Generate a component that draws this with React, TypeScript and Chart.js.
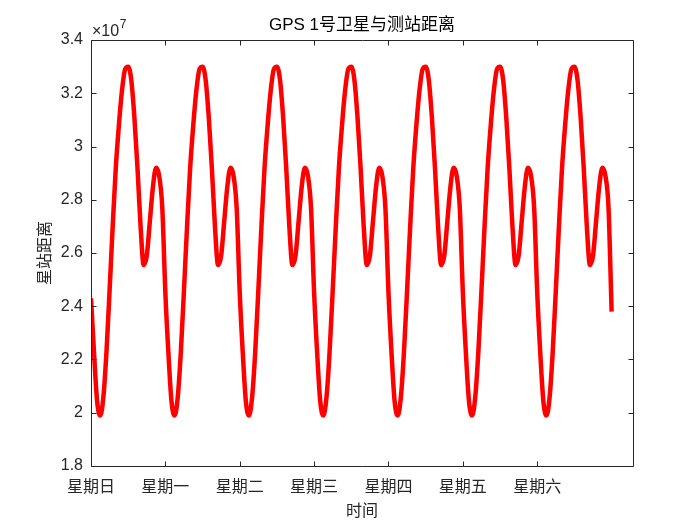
import React, { useEffect, useRef } from 'react';
import { Chart, registerables } from 'chart.js';

Chart.register(...registerables);

const TITLE = 'GPS 1号卫星与测站距离';
const X_TITLE = '时间';
const Y_TITLE = '星站距离';
const Y_EXPONENT = '7';

const WEEKDAYS = ['星期日', '星期一', '星期二', '星期三', '星期四', '星期五', '星期六'];
const WEEKDAY_HOURS = [0, 24, 48, 72, 96, 120, 144];
const Y_TICKS = [1.8, 2.0, 2.2, 2.4, 2.6, 2.8, 3.0, 3.2, 3.4];
const X_MIN_HOURS = 0;
const X_MAX_HOURS = 174.9;

// satellite–station distance, ×10^7 m, one sample per hour
const DISTANCE_1E7 = [
  // Sunday
  2.43, 2.22, 2.04, 1.99, 2.06, 2.23, 2.46, 2.70, 2.92, 3.08, 3.21, 3.29,
  3.30, 3.25, 3.11, 2.92, 2.70, 2.555, 2.59, 2.72, 2.85, 2.92, 2.89, 2.77,
  // Monday
  2.45, 2.22, 2.04, 1.99, 2.06, 2.23, 2.46, 2.70, 2.92, 3.08, 3.21, 3.29,
  3.30, 3.25, 3.11, 2.92, 2.70, 2.555, 2.59, 2.72, 2.85, 2.92, 2.89, 2.77,
  // Tuesday
  2.45, 2.22, 2.04, 1.99, 2.06, 2.23, 2.46, 2.70, 2.92, 3.08, 3.21, 3.29,
  3.30, 3.25, 3.11, 2.92, 2.70, 2.555, 2.59, 2.72, 2.85, 2.92, 2.89, 2.77,
  // Wednesday
  2.45, 2.22, 2.04, 1.99, 2.06, 2.23, 2.46, 2.70, 2.92, 3.08, 3.21, 3.29,
  3.30, 3.25, 3.11, 2.92, 2.70, 2.555, 2.59, 2.72, 2.85, 2.92, 2.89, 2.77,
  // Thursday
  2.45, 2.22, 2.04, 1.99, 2.06, 2.23, 2.46, 2.70, 2.92, 3.08, 3.21, 3.29,
  3.30, 3.25, 3.11, 2.92, 2.70, 2.555, 2.59, 2.72, 2.85, 2.92, 2.89, 2.77,
  // Friday
  2.45, 2.22, 2.04, 1.99, 2.06, 2.23, 2.46, 2.70, 2.92, 3.08, 3.21, 3.29,
  3.30, 3.25, 3.11, 2.92, 2.70, 2.555, 2.59, 2.72, 2.85, 2.92, 2.89, 2.77,
  // Saturday
  2.45, 2.22, 2.04, 1.99, 2.06, 2.23, 2.46, 2.70, 2.92, 3.08, 3.21, 3.29,
  3.30, 3.25, 3.11, 2.92, 2.70, 2.555, 2.59, 2.72, 2.85, 2.92, 2.89, 2.77,
  // end
  2.38,
];

const AXIS_COLOR = '#262626';
const LINE_COLOR = '#ff0000';
const NUM_FONT = '"Liberation Sans", Arial, "Noto Sans CJK SC", sans-serif';
const CJK_FONT = '"Noto Sans CJK SC", "Liberation Sans", sans-serif';

const framePlugin = {
  id: 'matlabFrame',
  afterDatasetsDraw(chart: any) {
    const { ctx, chartArea, scales } = chart;
    const { left, right, top, bottom } = chartArea;
    const x = scales.x;
    const y = scales.y;
    ctx.save();
    ctx.strokeStyle = AXIS_COLOR;
    ctx.lineWidth = 1;
    const L = Math.round(left) + 0.5;
    const R = Math.round(right) + 0.5;
    const T = Math.round(top) + 0.5;
    const B = Math.round(bottom) + 0.5;
    ctx.beginPath();
    ctx.rect(L, T, R - L, B - T);
    const tl = 5;
    y.ticks.forEach((t: any) => {
      const py = Math.round(y.getPixelForValue(t.value)) + 0.5;
      ctx.moveTo(L, py);
      ctx.lineTo(L + tl, py);
      ctx.moveTo(R, py);
      ctx.lineTo(R - tl, py);
    });
    x.ticks.forEach((t: any) => {
      const px = Math.round(x.getPixelForValue(t.value)) + 0.5;
      ctx.moveTo(px, B);
      ctx.lineTo(px, B - tl);
      ctx.moveTo(px, T);
      ctx.lineTo(px, T + tl);
    });
    ctx.stroke();

    const cx = (left + right) / 2;
    const cy = (top + bottom) / 2;

    // title
    ctx.fillStyle = '#000000';
    ctx.textAlign = 'center';
    ctx.textBaseline = 'middle';
    ctx.font = `17px ${NUM_FONT}`;
    ctx.fillText(TITLE, cx, 25);

    // x title
    ctx.fillStyle = AXIS_COLOR;
    ctx.font = `16px ${CJK_FONT}`;
    ctx.fillText(X_TITLE, cx, 510);

    // y title
    ctx.save();
    ctx.translate(44, cy);
    ctx.rotate(-Math.PI / 2);
    ctx.font = `16px ${CJK_FONT}`;
    ctx.fillText(Y_TITLE, 0, 0);
    ctx.restore();

    // exponent label
    ctx.textAlign = 'left';
    ctx.textBaseline = 'alphabetic';
    ctx.font = `16px ${NUM_FONT}`;
    ctx.fillText('\u00d710', left + 1, 36);
    const w = ctx.measureText('\u00d710').width;
    ctx.font = `12px ${NUM_FONT}`;
    ctx.fillText(Y_EXPONENT, left + 1 + w + 0.5, 28);
    ctx.restore();
  },
};

export default function App() {
  const canvasRef = useRef<HTMLCanvasElement | null>(null);

  useEffect(() => {
    document.body.style.margin = '0';
    const canvas = canvasRef.current;
    if (!canvas) return;
    const points = DISTANCE_1E7.map((v, i) => ({ x: i, y: v }));
    const chart = new Chart(canvas, {
      type: 'line',
      data: {
        datasets: [
          {
            data: points,
            borderColor: LINE_COLOR,
            backgroundColor: LINE_COLOR,
            borderWidth: 4.5,
            pointRadius: 0,
            fill: false,
            cubicInterpolationMode: 'monotone',
            borderCapStyle: 'butt',
            borderJoinStyle: 'round',
          },
        ],
      },
      options: {
        responsive: false,
        animation: false,
        devicePixelRatio: 1,
        layout: { padding: { left: 31, right: 67, top: 40, bottom: 19 } },
        plugins: {
          legend: { display: false },
          title: { display: false },
          tooltip: { enabled: false },
        },
        scales: {
          x: {
            type: 'linear',
            min: X_MIN_HOURS,
            max: X_MAX_HOURS,
            grid: { display: false, drawTicks: false },
            border: { display: false },
            afterBuildTicks: (scale: any) => {
              scale.ticks = WEEKDAY_HOURS.map((v) => ({ value: v }));
            },
            afterFit: (scale: any) => {
              scale.height = 40;
            },
            ticks: {
              autoSkip: false,
              maxRotation: 0,
              padding: 10,
              color: AXIS_COLOR,
              font: { family: CJK_FONT, size: 16 },
              callback: (_v: any, i: number) => WEEKDAYS[i],
            },
          },
          y: {
            type: 'linear',
            min: Y_TICKS[0],
            max: Y_TICKS[Y_TICKS.length - 1],
            grid: { display: false, drawTicks: false },
            border: { display: false },
            afterBuildTicks: (scale: any) => {
              scale.ticks = Y_TICKS.map((v) => ({ value: v }));
            },
            afterFit: (scale: any) => {
              scale.width = 60;
            },
            ticks: {
              padding: 8,
              color: AXIS_COLOR,
              font: { family: NUM_FONT, size: 16 },
              callback: (v: any) => String(Number(Number(v).toFixed(1))),
            },
          },
        },
      },
      plugins: [framePlugin],
    });
    return () => chart.destroy();
  }, []);

  return (
    <div style={{ width: 700, height: 525, background: '#ffffff' }}>
      <canvas ref={canvasRef} width={700} height={525} style={{ display: 'block' }} />
    </div>
  );
}
